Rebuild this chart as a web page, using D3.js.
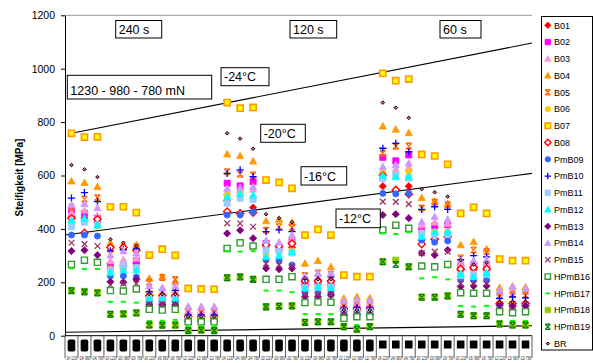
<!DOCTYPE html>
<html><head><meta charset="utf-8">
<script src="https://cdn.jsdelivr.net/npm/d3@7"></script>
<style>body{margin:0;background:#fff}svg{display:block;font-family:"Liberation Sans",Arial,sans-serif}</style>
</head><body><svg id="c" width="593" height="363"></svg>
<script>
// ---------- data ----------
const times = ["240 s", "120 s", "60 s"];
const temps = ["-24", "-20", "-16", "-12"];
const loads = ["1230", "980", "780"];
const tempLabels = ["-24°C", "-20°C", "-16°C", "-12°C"];
const loadLabel = "1230 - 980 - 780 mN";
const yTicks = [0, 200, 400, 600, 800, 1000, 1200];
const yTitle = "Steifigkeit [MPa]";

const B01 = [446,440,425, 271,262,268, 145,140,145, 70,70,70, 505,458,480, 340,320,330, 190,192,190, 95,95,95, 560,546,560, 360,361,371, 245,248,245, 112,112,112];
const B02 = [470,458,440, 262,258,280, 128,126,132, 60,60,60, 571,561,577, 345,331,352, 190,202,190, 100,100,102, 668,655,677, 398,411,415, 258,265,258, 115,116,115];
const B03 = [460,470,450, 280,285,290, 170,165,172, 95,95,95, 540,545,548, 340,335,360, 210,215,215, 120,125,122, 620,625,630, 415,425,420, 270,270,272, 160,165,165];
const B04 = [579,573,558, 348,336,340, 215,221,202, 109,107,107, 680,674,654, 430,436,425, 271,281,258, 140,146,141, 785,773,760, 517,504,495, 340,352,325, 180,186,182];
const B05 = [481,511,517, 324,331,333, 200,218,210, 88,88,88, 614,605,602, 395,408,405, 225,235,230, 112,115,115, 684,710,710, 478,500,490, 291,321,315, 149,155,152];
const B06 = [420,430,410, 250,252,250, 130,132,130, 62,62,62, 525,539,515, 300,315,320, 180,185,185, 98,98,98, 608,602,614, 385,389,389, 235,235,240, 108,108,108];
const B07 = [758,744,745, 483,483,461, 302,324,301, 177,175,174, 873,852,855, 583,574,552, 377,398,377, 227,221,221, 983,955,961, 679,673,642, 458,481,458, 287,281,281];
const B08 = [440,385,436, 330,330,320, 150,150,150, 72,72,72, 465,458,461, 340,335,345, 205,205,205, 100,100,100, 600,546,530, 343,361,371, 250,255,250, 120,120,120];
const PmB09 = [377,377,373, 224,224,220, 125,122,125, 60,60,60, 452,452,464, 285,281,265, 160,160,160, 85,85,85, 533,531,533, 358,350,355, 210,208,208, 100,100,100];
const PmB10 = [515,536,502, 318,322,325, 165,172,170, 78,78,78, 608,621,596, 390,396,390, 212,225,220, 102,104,104, 702,720,689, 473,483,473, 285,300,295, 140,145,142];
const PmB11 = [408,425,415, 245,262,255, 135,135,135, 60,60,60, 496,515,510, 320,315,310, 180,182,182, 90,90,90, 589,602,590, 383,380,380, 225,230,230, 105,105,105];
const PmB12 = [433,440,414, 236,246,246, 140,140,135, 65,65,65, 521,533,527, 296,300,315, 177,184,180, 88,88,88, 600,595,596, 371,389,389, 231,221,234, 100,100,100];
const PmB13 = [317,320,302, 202,200,211, 115,115,115, 55,55,55, 383,395,365, 252,249,252, 146,146,152, 78,78,78, 452,455,440, 309,302,321, 184,186,186, 115,112,112];
const PmB14 = [490,495,479, 302,317,309, 187,180,187, 109,109,109, 552,555,558, 356,350,377, 224,234,234, 131,136,133, 633,640,646, 427,446,436, 282,281,285, 170,184,177];
const PmB15 = [348,343,336, 190,195,195, 118,118,118, 55,55,55, 421,421,408, 270,265,260, 155,155,155, 80,80,80, 502,501,493, 309,315,315, 195,195,195, 95,95,95];
const HPmB16 = [267,283,275, 169,167,175, 99,96,99, 52,52,52, 327,348,336, 211,211,221, 124,126,125, 65,71,71, 396,414,402, 261,258,267, 161,159,159, 90,86,90];
const HPmB17 = [252,250,250, 127,127,124, 55,56,59, 35,35,35, 317,315,317, 169,169,163, 81,81,81, 40,40,40, 383,381,387, 215,219,211, 111,109,112, 55,55,55];
const HPmB18 = [170,166,162, 80,82,86, 40,40,40, 20,21,20, 217,221,211, 109,111,112, 50,52,52, 34,24,34, 277,283,258, 144,144,149, 80,75,75, 44,40,40];
const HPmB19 = [168,164,160, 80,81,85, 40,39,40, 19,21,19, 217,220,211, 108,110,111, 50,52,52, 34,24,34, 277,267,258, 144,144,149, 80,75,75, 44,40,40];
const BR = [639,623,594, 361,348,336, 156,155,155, 71,71,71, 758,738,700, 455,440,425, 215,211,211, 96,96,96, 873,854,816, 549,537,521, 283,267,273, 125,125,125];

// reference lines (category position, value)
const refLines = [
  {x0: 0, y0: 758, x1: 35.5, y1: 1096},
  {x0: -0.5, y0: 377, x1: 35.5, y1: 608},
  {x0: -0.5, y0: 13, x1: 35.5, y1: 37}
];

const seriesList = [
  {name:"B01", v:B01, shape:"diamond", fill:"#FF0000", stroke:"#FF0000"},
  {name:"B02", v:B02, shape:"square", fill:"#FF00FF", stroke:"#FF00FF"},
  {name:"B03", v:B03, shape:"triangle", fill:"#FF99CC", stroke:"#FF99CC"},
  {name:"B04", v:B04, shape:"triangle", fill:"#FF9900", stroke:"#FF9900"},
  {name:"B05", v:B05, shape:"star", fill:"none", stroke:"#FF6600"},
  {name:"B06", v:B06, shape:"circle", fill:"#FFCC00", stroke:"#FFCC00"},
  {name:"B07", v:B07, shape:"square", fill:"#FFFF00", stroke:"#FF9900", sw:1.6},
  {name:"B08", v:B08, shape:"diamond", fill:"#FFFFFF", stroke:"#FF0000", sw:1.4},
  {name:"PmB09", v:PmB09, shape:"circle", fill:"#3366FF", stroke:"#3366FF"},
  {name:"PmB10", v:PmB10, shape:"plus", fill:"none", stroke:"#0000FF"},
  {name:"PmB11", v:PmB11, shape:"square", fill:"#99CCFF", stroke:"#99CCFF"},
  {name:"PmB12", v:PmB12, shape:"triangle", fill:"#00FFFF", stroke:"#00FFFF"},
  {name:"PmB13", v:PmB13, shape:"diamond", fill:"#800080", stroke:"#800080"},
  {name:"PmB14", v:PmB14, shape:"triangle", fill:"#CC99FF", stroke:"#CC99FF"},
  {name:"PmB15", v:PmB15, shape:"x", fill:"none", stroke:"#993366"},
  {name:"HPmB16", v:HPmB16, shape:"square", fill:"#FFFFFF", stroke:"#339933", sw:1.4},
  {name:"HPmB17", v:HPmB17, shape:"dash", fill:"none", stroke:"#00FF00"},
  {name:"HPmB18", v:HPmB18, shape:"square", fill:"#99CC00", stroke:"#99CC00"},
  {name:"HPmB19", v:HPmB19, shape:"star", fill:"none", stroke:"#008000"},
  {name:"BR", v:BR, shape:"br", fill:"#CC6677", stroke:"#220000", sw:1}
];

(function () {
// ---------- chart ----------
const categories = [];
times.forEach((tm, ti) => temps.forEach(t => loads.forEach(l => categories.push({label: t + "/ " + l, group: ti}))));

const svg = d3.select("#c");
const pLeft = 65, pRight = 532, pTop = 15.3, pBottom = 335.7;
const x = d3.scaleBand().domain(d3.range(categories.length)).range([pLeft, pRight]).padding(0);
const xl = d3.scaleLinear().domain([-0.5, categories.length - 0.5]).range([pLeft, pRight]);
const y = d3.scaleLinear().domain([0, 1200]).range([pBottom, pTop]);
const bw = x.bandwidth();

// top border
svg.append("line").attr("x1", pLeft).attr("x2", pRight).attr("y1", pTop).attr("y2", pTop)
  .attr("stroke", "#999").attr("stroke-width", 1);

// y axis
const yAxis = svg.append("g").attr("transform", `translate(${pLeft},0)`)
  .call(d3.axisLeft(y).tickValues(yTicks).tickFormat(d3.format("d")).tickSize(4).tickSizeOuter(0).tickPadding(6));
yAxis.select(".domain").attr("stroke", "#000");
yAxis.selectAll(".tick line").attr("stroke", "#000");
yAxis.selectAll("text").attr("font-size", "10.5px").attr("fill", "#000")
  .attr("font-family", '"Liberation Sans",Arial,sans-serif');

svg.append("text").attr("transform", `translate(23,${(pTop + pBottom) / 2 + 2}) rotate(-90)`)
  .attr("text-anchor", "middle").attr("font-size", "10px").attr("font-weight", "bold").text(yTitle);

// x axis line
svg.append("line").attr("x1", pLeft).attr("x2", pRight).attr("y1", pBottom).attr("y2", pBottom)
  .attr("stroke", "#000");
// category separators
const seps = d3.range(categories.length + 1);
svg.append("g").selectAll("line").data(seps).join("line")
  .attr("x1", d => xl(d - 0.5)).attr("x2", d => xl(d - 0.5))
  .attr("y1", pBottom).attr("y2", 358).attr("stroke", "#333").attr("stroke-width", 0.8);

// black label blocks
svg.append("g").selectAll("rect").data(categories).join("rect")
  .attr("x", (d, i) => x(i) + bw / 2 - 3.8)
  .attr("y", d => d.group < 2 ? 339.5 : 340.5)
  .attr("width", 7.6)
  .attr("height", d => d.group < 2 ? 12 : 8)
  .attr("rx", d => d.group < 2 ? 1.8 : 0.5)
  .attr("fill", "#000");

// tick labels (horizontally squeezed to fit each category)
const tl = svg.append("g").selectAll("text").data(categories).join("text")
  .attr("text-anchor", "middle").attr("font-size", "6px").attr("fill", "#222")
  .text(d => d.label);
tl.each(function (d, i) {
  const len = this.getComputedTextLength();
  const s = Math.min(1, (bw - 1.2) / len);
  d3.select(this).attr("transform", `translate(${x(i) + bw / 2},359.5) scale(${s},1)`);
});

// reference lines
svg.append("g").selectAll("line").data(refLines).join("line")
  .attr("x1", d => xl(d.x0)).attr("y1", d => y(d.y0))
  .attr("x2", d => xl(d.x1)).attr("y2", d => y(d.y1))
  .attr("stroke", "#000").attr("stroke-width", 1.1);

// marker path
function markerPath(shape, r) {
  switch (shape) {
    case "diamond": return `M0,${-r}L${r},0L0,${r}L${-r},0Z`;
    case "square": return `M${-r*0.85},${-r*0.85}H${r*0.85}V${r*0.85}H${-r*0.85}Z`;
    case "triangle": return `M0,${-r}L${r},${r*0.8}L${-r},${r*0.8}Z`;
    case "circle": return d3.symbol(d3.symbolCircle, Math.PI * (r*0.85) * (r*0.85))();
    case "plus": return `M${-r},0H${r}M0,${-r}V${r}`;
    case "x": return `M${-r*0.8},${-r*0.8}L${r*0.8},${r*0.8}M${-r*0.8},${r*0.8}L${r*0.8},${-r*0.8}`;
    case "star": return `M${-r*0.8},${-r*0.8}L${r*0.8},${r*0.8}M${-r*0.8},${r*0.8}L${r*0.8},${-r*0.8}M${-r*0.8},${-r*0.8}H${r*0.8}M${-r*0.8},${r*0.8}H${r*0.8}`;
    case "dash": return `M${-r*0.7},0H${r*0.7}`;
    case "br": return `M0,${-r*0.5}L${r*0.5},0L0,${r*0.5}L${-r*0.5},0Z`;
  }
}
function styleMarker(sel, s) {
  const lineShape = ["plus", "x", "star", "dash"].includes(s.shape);
  sel.attr("fill", lineShape ? "none" : s.fill)
    .attr("stroke", s.stroke)
    .attr("stroke-width", s.sw || (s.shape === "dash" ? 2 : (lineShape ? 1.3 : 0.8)));
}

const plot = svg.append("g");
seriesList.forEach(s => {
  const g = plot.append("g");
  g.selectAll("path").data(s.v).join("path")
    .attr("transform", (d, i) => `translate(${x(i) + bw / 2},${y(d)})`)
    .attr("d", markerPath(s.shape, 3.6))
    .call(sel => styleMarker(sel, s));
});

// annotation boxes
function box(x0, y0, x1, y1, txt) {
  svg.append("rect").attr("x", x0).attr("y", y0).attr("width", x1 - x0).attr("height", y1 - y0)
    .attr("fill", "#fff").attr("stroke", "#000").attr("stroke-width", 1);
  svg.append("text").attr("x", x0 + 3).attr("y", y1 - 4.5).attr("font-size", "12.5px").text(txt);
}
box(115.7, 20.5, 161.7, 38, times[0]);
box(290, 20.5, 336.7, 38, times[1]);
box(440, 20.5, 481, 38, times[2]);
box(67.3, 75.3, 211.7, 99, loadLabel);
box(221, 67.7, 269, 85.7, tempLabels[0]);
box(260.7, 124.3, 305.3, 142.3, tempLabels[1]);
box(301, 166.7, 346.7, 185, tempLabels[2]);
box(336, 209, 380.3, 227.7, tempLabels[3]);

// legend
const lg = svg.append("g");
lg.append("rect").attr("x", 541.5).attr("y", 16.5).attr("width", 51).attr("height", 333.5)
  .attr("fill", "#fff").attr("stroke", "#000").attr("stroke-width", 1);
seriesList.forEach((s, i) => {
  const yy = 25.3 + i * 16.75;
  lg.append("path").attr("transform", `translate(547.8,${yy})`)
    .attr("d", markerPath(s.shape, 3.2)).call(sel => styleMarker(sel, s));
  lg.append("text").attr("x", 554).attr("y", yy + 3.2).attr("font-size", "9px").text(s.name);
});
})();
</script></body></html>
